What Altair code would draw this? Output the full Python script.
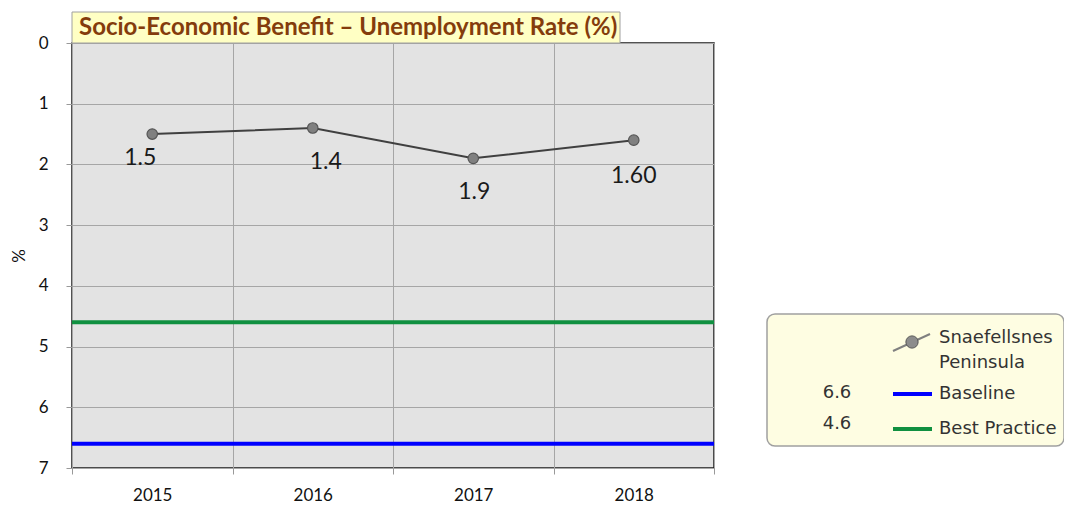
import altair as alt
import pandas as pd

years = ["2015", "2016", "2017", "2018"]
rates = [1.5, 1.4, 1.9, 1.6]
rate_labels = ["1.5", "1.4", "1.9", "1.60"]
series_name = "Snaefellsnes Peninsula"
baseline_name = "Baseline"
baseline_value = 6.6
best_name = "Best Practice"
best_value = 4.6
title_text = "Socio-Economic Benefit \u2013 Unemployment Rate (%)"

df = pd.DataFrame({"year": years, "rate": rates, "label": rate_labels})
one = pd.DataFrame({"k": [0]})

FONT = "Lato"
LFONT = "DejaVu Sans"

x_enc = alt.X("year:N", title=None, sort=years,
              scale=alt.Scale(paddingInner=0, paddingOuter=0),
              axis=alt.Axis(tickBand="extent", grid=True, gridColor="#a6a6a6",
                            labelAngle=0, labelFontSize=17, labelFont=FONT,
                            labelColor="#111", labelPadding=13, tickSize=6,
                            tickColor="#999", domain=False))
y_scale = alt.Scale(domain=[0, 7], reverse=True, nice=False)
y_axis = alt.Axis(values=list(range(8)), grid=True, gridColor="#a6a6a6",
                  labelFontSize=17, labelFont=FONT, labelColor="#111",
                  labelPadding=18, tickSize=6, tickColor="#999",
                  domain=False, titleFontSize=17, titleFont=FONT,
                  titleFontWeight="normal", titleColor="#111",
                  titlePadding=10)
y_enc = alt.Y("rate:Q", title="%", scale=y_scale, axis=y_axis)

base = alt.Chart(df)
line = base.mark_line(color="#404040", strokeWidth=2).encode(x=x_enc, y=y_enc)
pts = base.mark_point(filled=True, size=110, fill="#808080", stroke="#555555",
                      strokeWidth=1.2, opacity=1).encode(x=x_enc, y=y_enc)

offsets = [(-12, 24), (13, 34), (1, 34), (0, 36)]
label_layers = []
for yr, (dx, dy) in zip(years, offsets):
    label_layers.append(
        base.transform_filter(alt.datum.year == yr).mark_text(
            font=FONT, fontSize=23, color="#1a1a1a", dx=dx, dy=dy
        ).encode(x=x_enc, y=y_enc, text="label:N")
    )

ref = pd.DataFrame({"name": [baseline_name, best_name],
                    "rate": [baseline_value, best_value]})
ref_colors = ["#0000ff", "#109040"]
rules = alt.Chart(ref).mark_rule(strokeWidth=4).encode(
    y=y_enc,
    color=alt.Color("name:N", scale=alt.Scale(domain=[baseline_name, best_name],
                                              range=ref_colors),
                    legend=None))

# title box
title_box = alt.Chart(one).mark_rect(fill="#ffffc4", stroke="#a0a0a0", strokeWidth=1).encode(
    x=alt.value(0), x2=alt.value(548), y=alt.value(-31), y2=alt.value(0))
title_txt = alt.Chart(one).mark_text(text=title_text, font=FONT, fontSize=24,
                                     fontWeight="bold", color="#843c0c",
                                     align="left", baseline="middle").encode(
    x=alt.value(7), y=alt.value(-15))

# custom legend
lg_box = alt.Chart(one).mark_rect(fill="#fefde2", stroke="#a0a0a0", strokeWidth=1.5,
                                  cornerRadius=8).encode(
    x=alt.value(695), x2=alt.value(992), y=alt.value(271), y2=alt.value(403))
lg_sym_line = alt.Chart(one).mark_rule(color="#808080", strokeWidth=2).encode(
    x=alt.value(821), x2=alt.value(858), y=alt.value(308), y2=alt.value(291))
lg_sym_pt = alt.Chart(one).mark_point(filled=True, size=150, fill="#8c8c8c",
                                      stroke="#555", strokeWidth=1, opacity=1).encode(
    x=alt.value(840), y=alt.value(299))
name_parts = series_name.split(" ")
lg_t1 = alt.Chart(one).mark_text(text=name_parts[0], font=LFONT, fontSize=18,
                                 color="#333", align="left").encode(
    x=alt.value(867), y=alt.value(295))
lg_t2 = alt.Chart(one).mark_text(text=name_parts[1], font=LFONT, fontSize=18,
                                 color="#333", align="left").encode(
    x=alt.value(867), y=alt.value(320))

lg_rows = []
for name, val, col, ry, ny in zip([baseline_name, best_name],
                                  [baseline_value, best_value],
                                  ref_colors, [351, 386], [350, 381]):
    lg_rows.append(alt.Chart(one).mark_rule(strokeWidth=4, color=col).encode(
        x=alt.value(821), x2=alt.value(860), y=alt.value(ry)))
    lg_rows.append(alt.Chart(one).mark_text(text=name, font=LFONT, fontSize=18,
                                            color="#333", align="left").encode(
        x=alt.value(867), y=alt.value(ry)))
    lg_rows.append(alt.Chart(one).mark_text(text=f"{val}", font=LFONT,
                                            fontSize=18, color="#333",
                                            align="center").encode(
        x=alt.value(765), y=alt.value(ny)))

chart = alt.layer(
    line, pts, rules, *label_layers,
    title_box, title_txt,
    lg_box, lg_sym_line, lg_sym_pt, lg_t1, lg_t2, *lg_rows
).properties(
    width=642, height=425,
    autosize=alt.AutoSizeParams(type="none"),
    padding={"left": 64, "top": 35, "right": 350, "bottom": 36},
).configure_view(fill="#e3e3e3", stroke="#1a1a1a", strokeWidth=1.5)

chart.save("out.html", embed_options={"renderer": "svg", "actions": False})
